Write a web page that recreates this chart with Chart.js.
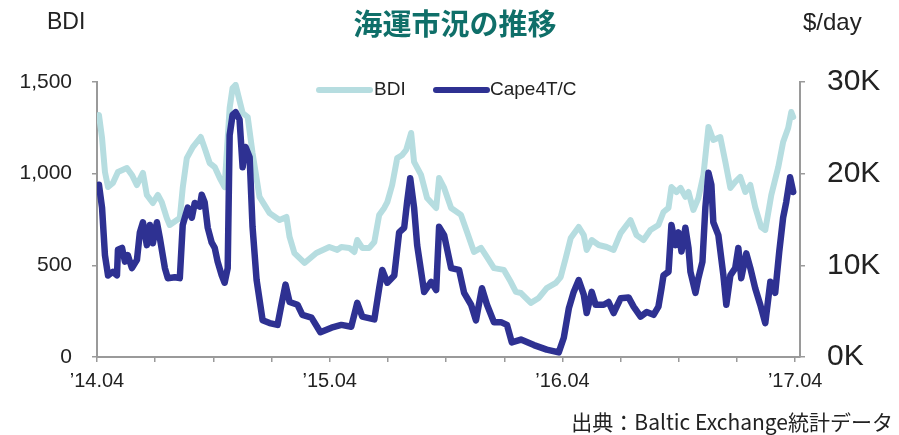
<!DOCTYPE html>
<html>
<head>
<meta charset="utf-8">
<script src="https://cdn.jsdelivr.net/npm/chart.js@4.4.1/dist/chart.umd.min.js"></script>
<style>
  html, body { margin: 0; padding: 0; background: #fff; }
  #wrap { width: 899px; height: 435px; position: relative; }
</style>
</head>
<body>
<div id="wrap"><canvas id="shipChart" width="899" height="435"></canvas></div>
<script>
// x values are months counted from 2014.04
const bdiMonth = [0.1,0.26,0.41,0.57,0.82,1.08,1.54,1.8,2.06,2.37,
  2.57,2.88,3.14,3.34,3.6,3.75,4.27,4.42,4.63,4.94,
  5.35,5.55,5.81,6.07,6.33,6.58,6.84,6.99,7.15,7.51,
  7.77,8.02,8.38,8.9,9.41,9.77,9.93,10.18,10.7,11.31,
  11.98,12.39,12.6,13.01,13.27,13.42,13.68,14.04,14.3,14.55,
  14.81,14.97,15.22,15.48,15.74,15.94,16.2,16.35,16.71,17.02,
  17.49,17.64,17.9,18.26,18.77,19.08,19.44,19.8,20.11,20.47,
  20.98,21.34,21.6,21.86,22.37,22.78,23.19,23.66,23.91,24.17,
  24.43,24.84,25.1,25.25,25.51,25.87,26.28,26.64,27.0,27.51,
  27.82,28.18,28.54,28.95,29.21,29.47,29.62,29.88,30.09,30.34,
  30.5,30.75,31.01,31.27,31.53,31.78,32.14,32.4,32.66,32.91,
  33.17,33.43,33.69,33.94,34.25,34.46,34.77,35.13,35.38,35.64,
  35.8,35.9];
const bdiValue = [1320,1195,1009,927,949,1009,1031,993,938,1004,
  884,840,884,845,758,720,758,922,1085,1145,
  1200,1140,1058,1036,976,927,1358,1467,1484,1331,
  1309,1113,873,785,747,764,655,567,513,567,
  600,584,600,595,573,638,595,595,627,775,
  813,845,938,1085,1102,1129,1222,1064,993,867,
  813,976,922,813,775,682,573,595,545,485,
  475,409,355,349,295,322,376,404,436,540,
  649,709,665,584,638,611,600,584,676,747,
  665,638,693,720,791,813,927,900,922,873,
  900,802,867,993,1255,1184,1200,1064,922,955,
  982,900,938,818,709,693,884,1036,1173,1249,
  1336,1309];

const capeMonth = [0.1,0.26,0.41,0.57,0.82,1.03,1.08,1.29,1.44,1.59,
  1.8,2.06,2.21,2.37,2.57,2.73,2.88,3.09,3.24,3.5,
  3.65,4.01,4.27,4.42,4.68,4.89,5.04,5.3,5.4,5.55,
  5.71,5.91,6.07,6.22,6.43,6.58,6.74,6.84,6.99,7.15,
  7.35,7.51,7.66,7.87,8.02,8.23,8.54,8.9,9.31,9.51,
  9.72,9.93,10.34,10.59,11.06,11.52,12.09,12.6,13.11,13.42,
  13.68,14.3,14.55,14.71,14.97,15.33,15.58,15.84,15.99,16.15,
  16.35,16.51,16.87,17.23,17.49,17.64,17.9,18.26,18.67,18.93,
  19.29,19.54,19.85,20.11,20.47,20.83,21.14,21.39,21.86,22.53,
  23.19,23.81,24.07,24.33,24.58,24.84,25.1,25.25,25.51,25.71,
  26.13,26.38,26.64,27.0,27.41,27.67,28.03,28.34,28.7,28.95,
  29.11,29.21,29.47,29.62,29.83,29.98,30.14,30.34,30.5,30.6,
  30.86,31.01,31.22,31.37,31.53,31.68,31.78,32.04,32.3,32.45,
  32.66,32.91,33.07,33.22,33.48,33.69,33.94,34.2,34.46,34.72,
  34.97,35.18,35.38,35.54,35.74,35.9];
const capeValue = [18800,16300,11100,8900,9300,8900,11700,11900,10400,11100,
  9700,10600,13600,14700,12200,14400,12400,14700,13000,9700,
  8600,8700,8600,14400,16300,15200,16800,16400,17700,16900,
  14100,12500,11900,10400,8900,8100,9700,24200,26400,26700,
  25900,20700,22900,21800,14200,8400,4000,3700,3500,5700,
  7900,6000,5700,4600,4300,2700,3200,3500,3300,5900,
  4400,4100,7500,9500,8100,8900,13600,14100,16900,19500,
  16300,12200,7100,8200,7300,14200,13300,9700,9500,7000,
  5700,4000,7500,5700,3800,3800,3500,1600,1900,1300,
  800,500,2100,5300,7100,8400,6800,4800,7100,5700,
  5700,6000,4800,6400,6500,5500,4400,4900,4600,5500,
  7500,8900,9300,14400,12200,13600,11500,14100,11900,9300,
  7000,8600,10400,16300,20100,18800,14700,13300,8900,5700,
  8900,9700,11900,8600,11300,9700,7500,5700,3700,8200,
  7000,11500,15200,16900,19600,18000];

const xTickMonths = [0,3,6,9,12,15,18,21,24,27,30,33,36];
const xTickLabels = {0: '\u201914.04', 12: '\u201915.04', 24: '\u201916.04', 36: '\u201917.04'};
const bdiTicks  = [0, 500, 1000, 1500];
const capeTicks = [0, 10000, 20000, 30000];

const BDI_COLOR  = '#b6dde0';
const CAPE_COLOR = '#2e3192';
const AXIS_COLOR = '#9a9a9a';
const TEXT_COLOR = '#222';
const FONT = '"Liberation Sans", Arial, sans-serif';
const JP_FONT = '"Noto Sans CJK JP", "Noto Sans", sans-serif';

const toPoints = (xs, ys) => xs.map((x, i) => ({ x: x, y: ys[i] }));

// titles, unit labels, legend and source note
const decorPlugin = {
  id: 'decor',
  afterDraw(chart) {
    const c = chart.ctx;
    c.save();
    c.textBaseline = 'middle';

    c.fillStyle = '#0f6f69';
    c.font = 'bold 29px ' + JP_FONT;
    c.textAlign = 'center';
    c.fillText('海運市況の推移', 455, 24);

    c.fillStyle = TEXT_COLOR;
    c.font = '23px ' + FONT;
    c.textAlign = 'left';
    c.fillText('BDI', 47, 23);
    c.font = '24px ' + FONT;
    c.fillText('$/day', 803, 23);

    // legend
    c.lineCap = 'round';
    c.lineWidth = 6;
    c.strokeStyle = BDI_COLOR;
    c.beginPath(); c.moveTo(319, 90); c.lineTo(370, 90); c.stroke();
    c.strokeStyle = CAPE_COLOR;
    c.beginPath(); c.moveTo(436, 90); c.lineTo(487, 90); c.stroke();
    c.fillStyle = TEXT_COLOR;
    c.font = '19px ' + FONT;
    c.fillText('BDI', 374, 90);
    c.fillText('Cape4T/C', 490, 90);

    c.font = '21px ' + JP_FONT;
    c.textAlign = 'right';
    c.fillText('出典：Baltic Exchange統計データ', 893, 422);
    c.restore();
  }
};

const ctx = document.getElementById('shipChart').getContext('2d');
new Chart(ctx, {
  type: 'line',
  data: {
    datasets: [
      {
        label: 'Cape4T/C',
        data: toPoints(capeMonth, capeValue),
        yAxisID: 'y1',
        borderColor: CAPE_COLOR,
        borderWidth: 6.5,
        pointRadius: 0,
        tension: 0,
        borderJoinStyle: 'round',
        borderCapStyle: 'round',
        fill: false,
      },
      {
        label: 'BDI',
        data: toPoints(bdiMonth, bdiValue),
        yAxisID: 'y',
        borderColor: BDI_COLOR,
        borderWidth: 6,
        pointRadius: 0,
        tension: 0,
        borderJoinStyle: 'round',
        borderCapStyle: 'round',
        fill: false,
      }
    ]
  },
  options: {
    responsive: false,
    animation: false,
    layout: { padding: { top: 82, left: 0, right: 0, bottom: 0 } },
    plugins: {
      legend: { display: false },
      tooltip: { enabled: false },
      title: { display: false }
    },
    scales: {
      x: {
        type: 'linear',
        min: 0,
        max: 36.25,
        afterBuildTicks: s => { s.ticks = xTickMonths.map(v => ({ value: v })); },
        afterFit: s => { s.height = 78; },
        ticks: {
          autoSkip: false,
          maxRotation: 0,
          color: TEXT_COLOR,
          font: { family: FONT, size: 20 },
          padding: 7,
          callback: v => xTickLabels[v] || ''
        },
        grid: { drawOnChartArea: false, drawTicks: true, tickLength: 5, color: AXIS_COLOR, lineWidth: 1.5 },
        border: { display: true, color: AXIS_COLOR, width: 2 }
      },
      y: {
        position: 'left',
        min: 0,
        max: 1500,
        afterBuildTicks: s => { s.ticks = bdiTicks.map(v => ({ value: v })); },
        afterFit: s => { s.width = 97; },
        ticks: {
          color: TEXT_COLOR,
          font: { family: FONT, size: 21 },
          padding: 20,
          callback: v => v.toLocaleString('en-US')
        },
        grid: { drawOnChartArea: false, drawTicks: true, tickLength: 5, color: AXIS_COLOR, lineWidth: 1.5 },
        border: { display: true, color: AXIS_COLOR, width: 2 }
      },
      y1: {
        position: 'right',
        min: 0,
        max: 30000,
        afterBuildTicks: s => { s.ticks = capeTicks.map(v => ({ value: v })); },
        afterFit: s => { s.width = 99; },
        ticks: {
          color: TEXT_COLOR,
          font: { family: FONT, size: 30 },
          padding: 22,
          callback: v => (v / 1000) + 'K'
        },
        grid: { drawOnChartArea: false, drawTicks: true, tickLength: 5, color: AXIS_COLOR, lineWidth: 1.5 },
        border: { display: true, color: AXIS_COLOR, width: 2 }
      }
    }
  },
  plugins: [decorPlugin]
});
</script>
</body>
</html>
